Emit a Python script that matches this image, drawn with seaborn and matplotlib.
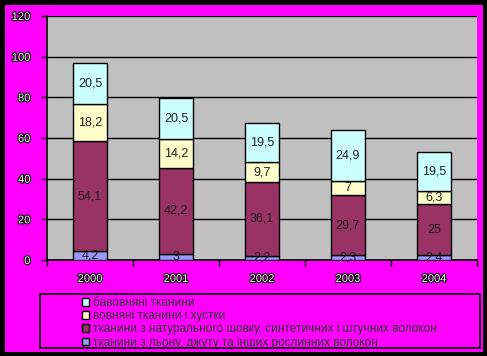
import matplotlib
matplotlib.use("Agg")
import matplotlib.pyplot as plt
import matplotlib.patheffects as pe
from matplotlib.patches import Rectangle, Patch
import seaborn as sns
import pandas as pd
import numpy as np

years = ["2000", "2001", "2002", "2003", "2004"]
flax = [4.2, 3, 2.2, 2.3, 2.4]
silk = [54.1, 42.2, 36.1, 29.7, 25]
wool = [18.2, 14.2, 9.7, 7, 6.3]
cotton = [20.5, 20.5, 19.5, 24.9, 19.5]

series_names = [
    "тканини з льону, джуту та інших рослинних волокон",
    "тканини з натурального шовку, синтетичних і штучних волокон",
    "вовняні тканини і хустки",
    "бавовняні тканини",
]
series_vals = [flax, silk, wool, cotton]
colors = ["#9999FF", "#993366", "#FFFFCC", "#CCFFFF"]

sns.set_theme(style="white")
plt.rcParams["font.family"] = ["Liberation Sans", "DejaVu Sans"]

W, H = 487, 356
fig = plt.figure(figsize=(W / 100, H / 100), dpi=100, facecolor="black")
fig.patches.append(Rectangle((5 / W, 4 / H), (483 - 5) / W, (351 - 4) / H,
                             transform=fig.transFigure, facecolor="#FF00FF",
                             edgecolor="none", zorder=-10))

ax = fig.add_axes([47 / W, (H - 260) / H, (477 - 47) / W, (260 - 16) / H])
ax.set_facecolor("#C0C0C0")

bottom = np.zeros(len(years))
for name, vals, col in zip(series_names, series_vals, colors):
    df = pd.DataFrame({"year": years, "v": vals})
    sns.barplot(data=df, x="year", y="v", bottom=bottom, color=col, width=0.385,
                edgecolor="black", linewidth=1, saturation=1, ax=ax, zorder=3)
    for i, v in enumerate(vals):
        ax.text(i, bottom[i] + v / 2, f"{v:g}".replace(".", ","), ha="center",
                va="center", fontsize=9, color="#202020", zorder=5)
    bottom = bottom + np.array(vals)

ax.set_ylim(0, 120)
ax.set_xlim(-0.5, 4.5)
ax.set_yticks(range(0, 121, 20))
ax.yaxis.grid(True, color="black", linewidth=1, zorder=1)
ax.set_axisbelow(True)
ax.set_xlabel("")
ax.set_ylabel("")
for s in ["top", "right"]:
    ax.spines[s].set_visible(False)
for s in ["left", "bottom"]:
    ax.spines[s].set_color("black")
    ax.spines[s].set_linewidth(1.2)

stroke = [pe.withStroke(linewidth=1.6, foreground="black")]
ax.tick_params(axis="y", which="major", left=True, length=4, width=1, color="black",
               pad=8, labelsize=8, labelcolor="white")
ax.set_xticks(range(len(years)))
ax.set_xticklabels(years)
ax.tick_params(axis="x", which="major", bottom=False, length=0, pad=10, labelsize=8,
               labelcolor="white")
ax.set_xticks(np.arange(-0.5, 4.6, 1), minor=True)
ax.tick_params(axis="x", which="minor", bottom=True, length=4, width=1, color="black")
for lab in ax.get_xticklabels() + ax.get_yticklabels():
    lab.set_path_effects(stroke)

# legend box
fig.patches.append(Rectangle((40 / W, (H - 348) / H), (480 - 40) / W, (348 - 294) / H,
                             transform=fig.transFigure, facecolor="none",
                             edgecolor="black", linewidth=1.2, zorder=2))
order = [3, 2, 1, 0]
handles = [Patch(facecolor=colors[i], edgecolor="black", linewidth=1) for i in order]
labels = [series_names[i] for i in order]
leg = fig.legend(handles, labels, loc="upper left",
                 bbox_to_anchor=(82 / W, (H - 297) / H), frameon=False,
                 fontsize=8.5, handlelength=0.62, handleheight=0.62, handletextpad=0.3,
                 labelspacing=0.1, borderpad=0, borderaxespad=0)
for t in leg.get_texts():
    t.set_color("#303030")

fig.savefig("out.png", dpi=100, facecolor="black")
